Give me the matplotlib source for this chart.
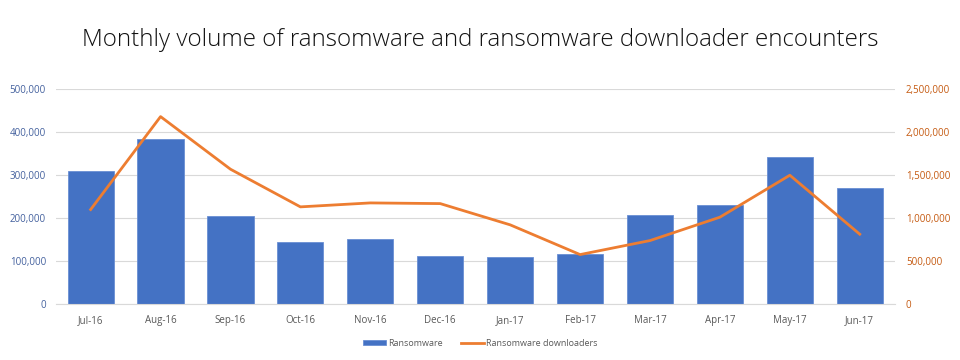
import matplotlib.pyplot as plt
from matplotlib.ticker import FuncFormatter

months = ['Jul-16', 'Aug-16', 'Sep-16', 'Oct-16', 'Nov-16', 'Dec-16',
          'Jan-17', 'Feb-17', 'Mar-17', 'Apr-17', 'May-17', 'Jun-17']
ransomware = [308000, 384000, 205000, 143000, 152000, 112000,
              110000, 116000, 206000, 231000, 342000, 269000]
downloaders = [1097000, 2178000, 1566000, 1128000, 1174000, 1166000,
               919000, 573000, 736000, 1008000, 1496000, 810000]

plt.rcParams['font.family'] = ['Open Sans', 'DejaVu Sans']

fig = plt.figure(figsize=(9.6, 3.6), dpi=100)
ax = fig.add_axes([0.058, 0.156, 0.874, 0.597])
ax2 = ax.twinx()

x = range(len(months))
ax.bar(x, ransomware, width=0.66, color='#4472C4', edgecolor='#6a8fd3',
       linewidth=0.6, label='Ransomware', zorder=2)
ax2.plot(x, downloaders, color='#ED7D31', linewidth=2.0,
         label='Ransomware downloaders', zorder=3)

ax.set_xlim(-0.5, len(months) - 0.5)
ax.set_ylim(0, 500000)
ax2.set_ylim(0, 2500000)
ax.set_yticks(range(0, 500001, 100000))
ax2.set_yticks(range(0, 2500001, 500000))

fmt = FuncFormatter(lambda v, p: f'{int(v):,}')
ax.yaxis.set_major_formatter(fmt)
ax2.yaxis.set_major_formatter(fmt)

ax.grid(axis='y', color='#d9d9d9', linewidth=0.8, zorder=0)
ax.set_axisbelow(True)
for a in (ax, ax2):
    for s in a.spines.values():
        s.set_visible(False)
ax.spines['bottom'].set_visible(True)
ax.spines['bottom'].set_color('#d9d9d9')

ax.set_xticks(list(x))
ax.set_xticklabels(months)
ax.tick_params(axis='x', length=0, pad=8, labelsize=7, labelcolor='#595959')
ax.tick_params(axis='y', length=0, pad=7, labelsize=7, labelcolor='#44619e')
ax2.tick_params(axis='y', length=0, pad=8, labelsize=7, labelcolor='#c55a11')

fig.suptitle('Monthly volume of ransomware and ransomware downloader encounters',
             y=0.89, fontsize=17.4, fontweight='light', color='#111111', va='center')

h1, l1 = ax.get_legend_handles_labels()
h2, l2 = ax2.get_legend_handles_labels()
fig.legend(h1 + h2, l1 + l2, loc='center', bbox_to_anchor=(0.5, 0.047),
           ncol=2, frameon=False, fontsize=6.5, labelcolor='#595959',
           handlelength=2.6, handleheight=0.5, columnspacing=2.0, handletextpad=0.2)

fig.savefig('out.png', dpi=100)
